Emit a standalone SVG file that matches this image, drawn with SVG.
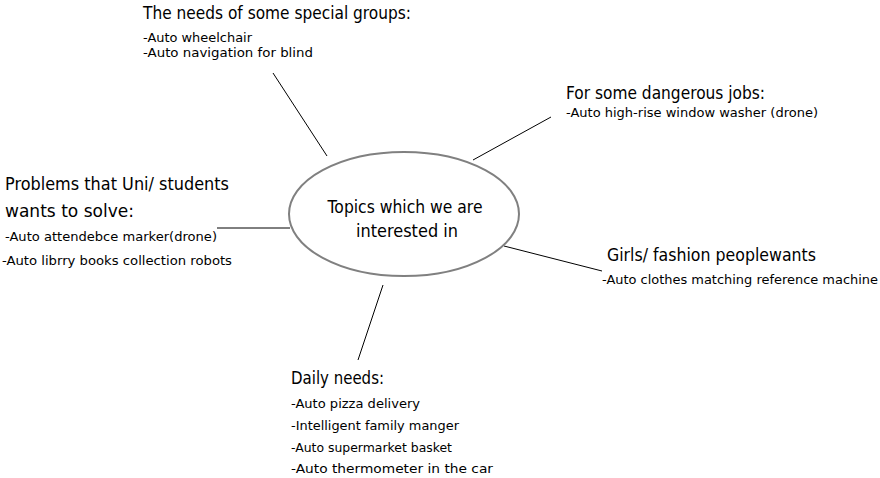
<svg xmlns="http://www.w3.org/2000/svg" width="880" height="478" viewBox="0 0 880 478">
<style>
text{font-family:"DejaVu Sans","Liberation Sans",sans-serif;fill:#000}
.h{font-size:17px}
.s{font-size:12.5px}
.c{font-size:17px;text-anchor:middle}
.ln{stroke:#000;stroke-width:1;fill:none}
</style>
<rect width="880" height="478" fill="#fff"/>
<g id="connectors">
<line class="ln" x1="273" y1="73" x2="327" y2="156"/>
<line class="ln" x1="551" y1="117" x2="473" y2="160"/>
<line class="ln" x1="217" y1="228" x2="290" y2="228"/>
<line class="ln" x1="504" y1="246" x2="602" y2="271"/>
<line class="ln" x1="383" y1="285" x2="358" y2="360"/>
</g>
<g id="center">
<ellipse cx="404" cy="214" rx="115" ry="62" fill="#fff" stroke="#808080" stroke-width="2"/>
<text class="c" x="405" y="213" textLength="155" lengthAdjust="spacingAndGlyphs">Topics which we are</text>
<text class="c" x="407" y="237" textLength="102" lengthAdjust="spacingAndGlyphs">interested in</text>
</g>
<g id="special-groups">
<text class="h" x="143" y="19" textLength="268" lengthAdjust="spacingAndGlyphs">The needs of some special groups:</text>
<text class="s" x="143" y="42" textLength="109" lengthAdjust="spacingAndGlyphs">-Auto wheelchair</text>
<text class="s" x="143" y="57" textLength="170" lengthAdjust="spacingAndGlyphs">-Auto navigation for blind</text>
</g>
<g id="dangerous-jobs">
<text class="h" x="566" y="99" textLength="199" lengthAdjust="spacingAndGlyphs">For some dangerous jobs:</text>
<text class="s" x="566" y="117" textLength="252" lengthAdjust="spacingAndGlyphs">-Auto high-rise window washer (drone)</text>
</g>
<g id="students">
<text class="h" x="5" y="190" textLength="224" lengthAdjust="spacingAndGlyphs">Problems that Uni/ students</text>
<text class="h" x="5" y="217" textLength="129" lengthAdjust="spacingAndGlyphs">wants to solve:</text>
<text class="s" x="5" y="241" textLength="212" lengthAdjust="spacingAndGlyphs">-Auto attendebce marker(drone)</text>
<text class="s" x="2" y="265" textLength="230" lengthAdjust="spacingAndGlyphs">-Auto librry books collection robots</text>
</g>
<g id="fashion">
<text class="h" x="607" y="261" textLength="209" lengthAdjust="spacingAndGlyphs">Girls/ fashion peoplewants</text>
<text class="s" x="602" y="284" textLength="276" lengthAdjust="spacingAndGlyphs">-Auto clothes matching reference machine</text>
</g>
<g id="daily-needs">
<text class="h" x="291" y="384" textLength="93" lengthAdjust="spacingAndGlyphs">Daily needs:</text>
<text class="s" x="291" y="408" textLength="129" lengthAdjust="spacingAndGlyphs">-Auto pizza delivery</text>
<text class="s" x="291" y="430" textLength="168" lengthAdjust="spacingAndGlyphs">-Intelligent family manger</text>
<text class="s" x="291" y="452" textLength="161" lengthAdjust="spacingAndGlyphs">-Auto supermarket basket</text>
<text class="s" x="291" y="473" textLength="202" lengthAdjust="spacingAndGlyphs">-Auto thermometer in the car</text>
</g>
</svg>
